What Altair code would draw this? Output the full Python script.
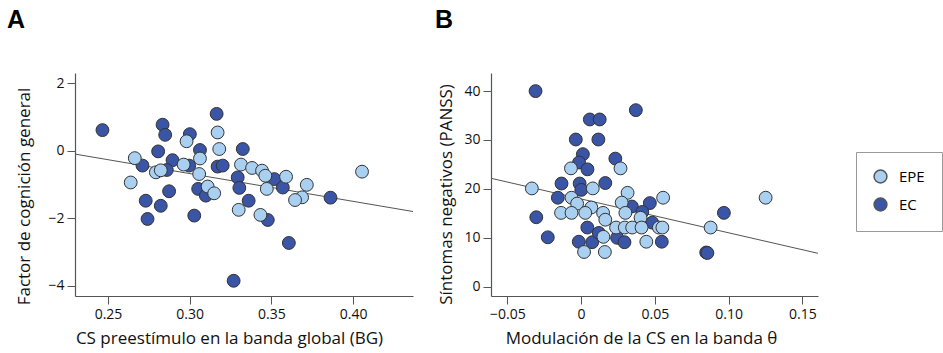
import altair as alt
import pandas as pd

# ---------------- Panel A data ----------------
a_ec_x = [0.2466, 0.2834, 0.2850, 0.3001, 0.2807, 0.3063, 0.2711, 0.2895, 0.2860, 0.2997,
          0.3171, 0.3202, 0.2874, 0.3052, 0.3099, 0.2731, 0.2823, 0.2742, 0.3028, 0.3165,
          0.3325, 0.3294, 0.3304, 0.3361, 0.3518, 0.3570, 0.3478, 0.3862, 0.3607, 0.3269]
a_ec_y = [0.61, 0.77, 0.47, 0.49, -0.02, 0.02, -0.44, -0.28, -0.57, -0.44,
          -0.47, -0.44, -1.20, -1.13, -1.33, -1.48, -1.63, -2.02, -1.92, 1.09,
          0.05, -0.79, -1.10, -1.48, -0.84, -1.09, -2.05, -1.39, -2.73, -3.85]
a_epe_x = [0.3171, 0.3181, 0.2981, 0.2664, 0.3063, 0.2963, 0.2793, 0.2823, 0.3058, 0.2639,
           0.3110, 0.3150, 0.3314, 0.3382, 0.3443, 0.3463, 0.3472, 0.3590, 0.3717, 0.3688,
           0.3645, 0.3300, 0.3433, 0.4055]
a_epe_y = [0.54, 0.05, 0.28, -0.22, -0.23, -0.41, -0.64, -0.58, -0.69, -0.94,
           -1.06, -1.26, -0.41, -0.51, -0.59, -0.74, -1.13, -0.77, -1.01, -1.38,
           -1.46, -1.75, -1.90, -0.62]
a_fit_x = [0.2298, 0.4367]
a_fit_y = [-0.10, -1.80]

# ---------------- Panel B data ----------------
b_ec_x = [-0.0309, 0.0371, 0.0059, 0.0126, -0.0036, 0.0117, 0.0012, -0.0014, 0.0043, 0.0232,
          -0.0133, -0.0010, 0.0164, 0.0001, -0.0158, 0.0466, -0.0304, -0.0226, 0.0968, 0.0848,
          -0.0016, 0.0042, 0.0075, 0.0120, 0.0244, 0.0294, 0.0547, 0.0344, 0.0415, 0.0482,
          0.0856]
b_ec_y = [40.0, 36.1, 34.2, 34.2, 30.1, 30.1, 27.1, 25.4, 24.0, 26.2,
          21.1, 21.1, 21.2, 19.8, 18.2, 17.1, 14.2, 10.1, 15.1, 7.0,
          9.2, 12.1, 9.1, 11.0, 10.0, 9.1, 9.2, 16.4, 15.3, 13.1,
          6.9]
b_epe_x = [-0.0334, -0.0069, 0.0267, 0.0079, 0.0315, 0.0275, -0.0065, -0.0027, 0.0069, -0.0136,
           -0.0065, 0.0028, 0.0149, 0.0300, 0.0164, 0.0403, 0.0151, 0.0237, 0.0296, 0.0346,
           0.0410, 0.0527, 0.0551, 0.0556, 0.0442, 0.0020, 0.0161, 0.0878, 0.1251]
b_epe_y = [20.1, 24.2, 24.2, 20.1, 19.2, 17.2, 18.2, 17.0, 16.2, 15.1,
           15.1, 15.1, 15.1, 15.1, 13.7, 14.1, 10.2, 12.1, 12.1, 12.1,
           12.1, 12.1, 12.1, 18.2, 9.2, 7.1, 7.1, 12.1, 18.2]
b_fit_x = [-0.0611, 0.1606]
b_fit_y = [22.17, 6.83]

groups = ["EPE", "EC"]
colors = ["#a9d0f0", "#3a54a6"]

FONT = "Open Sans"


def points_df(ec_x, ec_y, epe_x, epe_y):
    rows = [{"x": x, "y": y, "grupo": "EC"} for x, y in zip(ec_x, ec_y)]
    rows += [{"x": x, "y": y, "grupo": "EPE"} for x, y in zip(epe_x, epe_y)]
    return pd.DataFrame(rows)


color = alt.Color("grupo:N", scale=alt.Scale(domain=groups, range=colors),
                  legend=alt.Legend(title=None, orient="none", legendX=781, legendY=79,
                                    strokeColor="#999999", padding=17, symbolSize=165,
                                    symbolStrokeColor="#555555", symbolStrokeWidth=1.5,
                                    labelFontSize=15, labelFont=FONT, rowPadding=9,
                                    labelOffset=11, symbolType="circle"))

axis_common = dict(grid=False, domainColor="#555555", tickColor="#555555", tickSize=8,
                   labelFont=FONT, labelFontSize=14, labelColor="#111111",
                   titleFont=FONT, titleFontSize=17, titleFontWeight="normal",
                   titleColor="#111111", labelPadding=3)


def panel(df, fit_x, fit_y, xdom, ydom, xticks, yticks, xlab_expr, xtitle, ytitle,
          w, h, letter, xtx, ytx, yty, tdx):
    fit = pd.DataFrame({"x": fit_x, "y": fit_y})
    xs = alt.Scale(domain=xdom, nice=False, zero=False)
    ys = alt.Scale(domain=ydom, nice=False, zero=False)
    xaxis = alt.Axis(values=xticks, labelExpr=xlab_expr, title=xtitle,
                     titleX=xtx, titleY=42, titleBaseline="middle", **axis_common)
    yaxis = alt.Axis(values=yticks, title=ytitle, titleX=ytx, titleY=yty,
                     titleBaseline="middle", titleAngle=-90, **axis_common)
    line = alt.Chart(fit).mark_line(color="#555555", strokeWidth=1).encode(
        x=alt.X("x:Q", scale=xs, axis=xaxis), y=alt.Y("y:Q", scale=ys, axis=yaxis))
    pts = alt.Chart(df).mark_circle(size=165, opacity=1, stroke="#333333",
                                    strokeWidth=1).encode(
        x=alt.X("x:Q", scale=xs), y=alt.Y("y:Q", scale=ys), color=color)
    return alt.layer(line, pts).properties(
        width=w, height=h,
        title=alt.TitleParams(letter, anchor="start", fontSize=25, fontWeight="bold",
                              font="Liberation Sans", color="#000000",
                              offset=40, dx=tdx))


dfa = points_df(a_ec_x, a_ec_y, a_epe_x, a_epe_y)
dfb = points_df(b_ec_x, b_ec_y, b_epe_x, b_epe_y)

pa = panel(dfa, a_fit_x, a_fit_y, [0.2298, 0.4367], [-4.3, 2.3],
           [0.25, 0.30, 0.35, 0.40], [-4, -2, 0, 2], "format(datum.value, '.2f')",
           "CS preestímulo en la banda global (BG)", "Factor de cognición general",
           338, 223, "A", 154, -51, 123, -8)
pb = panel(dfb, b_fit_x, b_fit_y, [-0.0611, 0.1606], [-1.9, 43.7],
           [-0.05, 0, 0.05, 0.10, 0.15], [0, 10, 20, 30, 40],
           "datum.value == 0 ? '0' : format(datum.value, '.2f')",
           "Modulación de la CS en la banda θ", "Síntomas negativos (PANSS)",
           327, 223, "B", 150, -45, 121, -2)

chart = alt.hconcat(pa, pb, spacing=19).properties(
    padding={"left": 6, "top": 8, "right": 0, "bottom": 2}
).configure_view(stroke=None).configure_axis(
    domainWidth=1.2
)

chart.save("out.html", embed_options={"renderer": "svg", "actions": False})
